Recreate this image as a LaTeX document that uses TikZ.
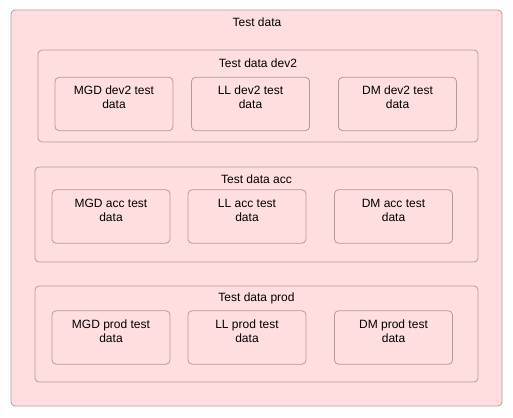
\documentclass[tikz,border=0pt]{standalone}
\usepackage{fontspec}
\setmainfont{Liberation Sans}
\usetikzlibrary{positioning}
\definecolor{boxfill}{HTML}{FFDEDF}
\definecolor{boxline}{HTML}{B39A9B}
\begin{document}
\begin{tikzpicture}[x=0.75pt,y=-0.75pt,
  frame/.style={draw=boxline, fill=boxfill, rounded corners=3pt, line width=0.6pt, inner sep=0pt},
  groupbox/.style={frame, minimum width=332.25pt, minimum height=71.25pt},
  itembox/.style={frame, minimum width=88.5pt, minimum height=40pt},
  caption/.style={font=\fontsize{9}{10.5}\selectfont, inner sep=0pt, align=center}]
  \useasboundingbox (0,0) rectangle (513,417);
  % Outer box
  \node[frame, minimum width=368.25pt, minimum height=297pt] (testdata) at (256.5,208) {};
  \node[caption] (testdataT) at (257,22) {Test data};
  % Group boxes
  \node[groupbox, minimum width=330pt, minimum height=69pt] (dev2) at (258,96) {};
  \node[caption] (dev2T) at (258,63) {Test data dev2};
  \node[groupbox] (acc) at (256.5,214.5) {};
  \node[caption] (accT) at (256.5,179) {Test data acc};
  \node[groupbox, minimum height=72pt] (prod) at (256.5,334) {};
  \node[caption] (prodT) at (256.5,298) {Test data prod};
  % Items dev2
  \node[itembox] (mgddev2) at (114,104) {};
  \node[itembox] (lldev2) at (250.5,104) {};
  \node[itembox] (dmdev2) at (397.5,104) {};
  \node[caption] at (114,97) {MGD dev2 test\\data};
  \node[caption] at (250.5,97) {LL dev2 test\\data};
  \node[caption] at (397.5,97) {DM dev2 test\\data};
  % Items acc
  \node[itembox] (mgdacc) at (111,216.5) {};
  \node[itembox] (llacc) at (247,216.5) {};
  \node[itembox] (dmacc) at (393.5,216.5) {};
  \node[caption] at (111,210) {MGD acc test\\data};
  \node[caption] at (247,210) {LL acc test\\data};
  \node[caption] at (393.5,210) {DM acc test\\data};
  % Items prod
  \node[itembox] (mgdprod) at (111,337.5) {};
  \node[itembox] (llprod) at (247,337.5) {};
  \node[itembox] (dmprod) at (393.5,337.5) {};
  \node[caption] at (111,331) {MGD prod test\\data};
  \node[caption] at (247,331) {LL prod test\\data};
  \node[caption] at (393.5,331) {DM prod test\\data};
\end{tikzpicture}
\end{document}
